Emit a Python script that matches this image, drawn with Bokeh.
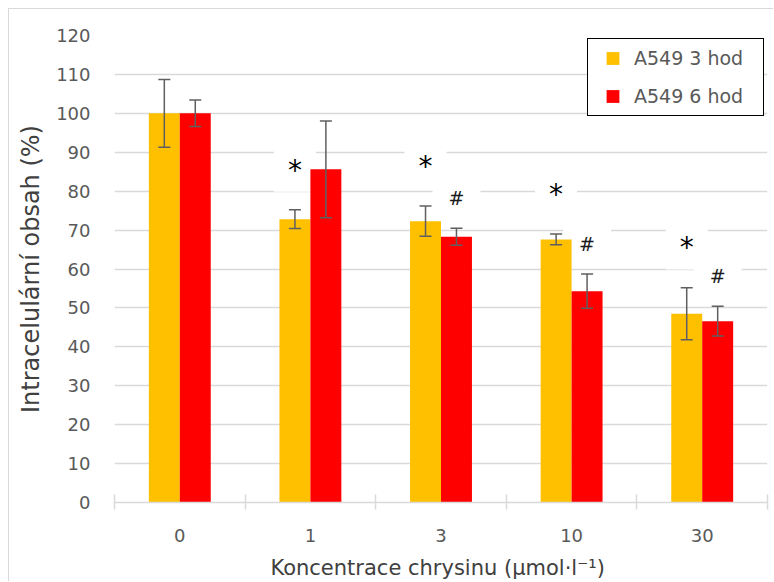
import numpy as np
from bokeh.plotting import figure
from bokeh.models import (ColumnDataSource, Whisker, TeeHead, FixedTicker,
                          Legend, LegendItem, Range1d)
from bokeh.core.properties import value
from bokeh.embed import file_html
from bokeh.resources import INLINE

# Intracellular content of A549 cells after chrysin treatment
concentrations = ["0", "1", "3", "10", "30"]
mean_3h = [100.0, 72.8, 72.3, 67.6, 48.5]
sd_3h = [8.7, 2.4, 3.9, 1.4, 6.7]
mean_6h = [100.0, 85.6, 68.3, 54.3, 46.6]
sd_6h = [3.4, 12.4, 2.2, 4.4, 3.8]
sig_3h = ["", "*", "*", "*", "*"]
sig_6h = ["", "", "#", "#", "#"]
series_names = ["A549 3 hod", "A549 6 hod"]
y_ticks = list(range(0, 121, 10))

COLOR_3H = "#FFC000"
COLOR_6H = "#FF0000"
GRID = "#D9D9D9"
TEXT = "#595959"
ERR = "#5F5F5F"
FONT = "DejaVu Sans"

n = len(concentrations)
centers = np.arange(n) + 0.5
bar_w = 0.237
x3 = centers - bar_w / 2
x6 = centers + bar_w / 2


def bar_source(x, mean, sd):
    m = np.asarray(mean, dtype=float)
    s = np.asarray(sd, dtype=float)
    return ColumnDataSource(dict(x=x, top=m, lower=m - s, upper=m + s))


def mark_source(x, mean, sd, marks, lift):
    upper = np.asarray(mean, dtype=float) + np.asarray(sd, dtype=float)
    keep = [i for i, m in enumerate(marks) if m]
    return ColumnDataSource(dict(x=x[keep], y=upper[keep] + lift,
                                 text=[marks[i] for i in keep]))


src3 = bar_source(x3, mean_3h, sd_3h)
src6 = bar_source(x6, mean_6h, sd_6h)

p = figure(width=765, height=573, x_range=Range1d(0, n), y_range=Range1d(0, 120),
           output_backend="svg", toolbar_location=None,
           min_border_left=105, min_border_right=7,
           min_border_top=26, min_border_bottom=79)
p.margin = (8, 0, 0, 8)
p.styles = {"border-left": f"1px solid {GRID}", "border-top": f"1px solid {GRID}"}
p.outline_line_color = None
p.background_fill_color = "white"
p.border_fill_color = "white"

# significance marks with white label boxes (drawn first so bars sit on top)
p.text(x="x", y="y", text="text", source=mark_source(x3, mean_3h, sd_3h, sig_3h, 10.2),
       text_font=value(FONT), text_font_size="28px", text_color="#000000",
       text_align="center", text_baseline="middle",
       background_fill_color="white",
       padding=dict(left=14, right=14, top=5, bottom=5))
p.text(x="x", y="y", text="text", source=mark_source(x6, mean_6h, sd_6h, sig_6h, 7.7),
       text_font=value(FONT), text_font_size="19px", text_color="#1A1A1A",
       text_align="center", text_baseline="middle",
       background_fill_color="white",
       padding=dict(left=16, right=16, top=10, bottom=10))

# legend swatches: squares at the foot of each bar, covered by the bars
k3 = p.scatter(x="x", y=0, source=src3, marker="square", size=13,
               fill_color=COLOR_3H, line_color=None)
k6 = p.scatter(x="x", y=0, source=src6, marker="square", size=13,
               fill_color=COLOR_6H, line_color=None)

r3 = p.vbar(x="x", top="top", bottom=0, width=bar_w, source=src3,
            fill_color=COLOR_3H, line_color=None)
r6 = p.vbar(x="x", top="top", bottom=0, width=bar_w, source=src6,
            fill_color=COLOR_6H, line_color=None)

for src in (src3, src6):
    p.add_layout(Whisker(base="x", lower="lower", upper="upper", source=src,
                         line_color=ERR, line_width=1.5, level="annotation",
                         upper_head=TeeHead(size=12, line_color=ERR, line_width=1.5),
                         lower_head=TeeHead(size=12, line_color=ERR, line_width=1.5)))

legend = Legend(items=[LegendItem(label=series_names[0], renderers=[k3]),
                       LegendItem(label=series_names[1], renderers=[k6])],
                location="top_right", margin=3, padding=3, spacing=6,
                glyph_width=43, glyph_height=32, label_standoff=0,
                label_width=126, label_height=20,
                label_text_font=FONT, label_text_font_size="19px",
                label_text_color=TEXT, label_text_baseline="middle",
                border_line_color="black", border_line_width=1.5,
                border_line_alpha=1.0,
                background_fill_color="white", background_fill_alpha=1.0)
p.add_layout(legend)

# x axis: labels at category centres, cross ticks at category boundaries
xa = p.xaxis[0]
xa.ticker = FixedTicker(ticks=list(centers), minor_ticks=list(range(n + 1)))
xa.major_label_overrides = {float(c): lab for c, lab in zip(centers, concentrations)}
xa.axis_line_color = GRID
xa.axis_line_width = 1.5
xa.major_tick_line_color = None
xa.major_tick_in = 0
xa.major_tick_out = 0
xa.minor_tick_line_color = GRID
xa.minor_tick_line_width = 1.5
xa.minor_tick_in = 8
xa.minor_tick_out = 7
xa.major_label_text_font = FONT
xa.major_label_text_font_size = "18px"
xa.major_label_text_color = TEXT
xa.major_label_standoff = 19
xa.axis_label = "Koncentrace chrysinu  (µmol·l⁻¹)"
xa.axis_label_text_font = FONT
xa.axis_label_text_font_size = "21px"
xa.axis_label_text_font_style = "normal"
xa.axis_label_text_color = "#404040"
xa.axis_label_standoff = 11

ya = p.yaxis[0]
ya.ticker = FixedTicker(ticks=y_ticks)
ya.axis_line_color = None
ya.major_tick_line_color = None
ya.minor_tick_line_color = None
ya.major_tick_in = 0
ya.major_tick_out = 0
ya.major_label_text_font = FONT
ya.major_label_text_font_size = "18px"
ya.major_label_text_color = TEXT
ya.major_label_standoff = 24
ya.axis_label = "Intracelulární obsah (%)"
ya.axis_label_text_font = FONT
ya.axis_label_text_font_size = "24px"
ya.axis_label_text_font_style = "normal"
ya.axis_label_text_color = "#404040"
ya.axis_label_standoff = 8

p.xgrid.grid_line_color = None
p.ygrid.grid_line_color = GRID
p.ygrid.grid_line_width = 1.3

open("out.html", "w").write(file_html(p, INLINE))
